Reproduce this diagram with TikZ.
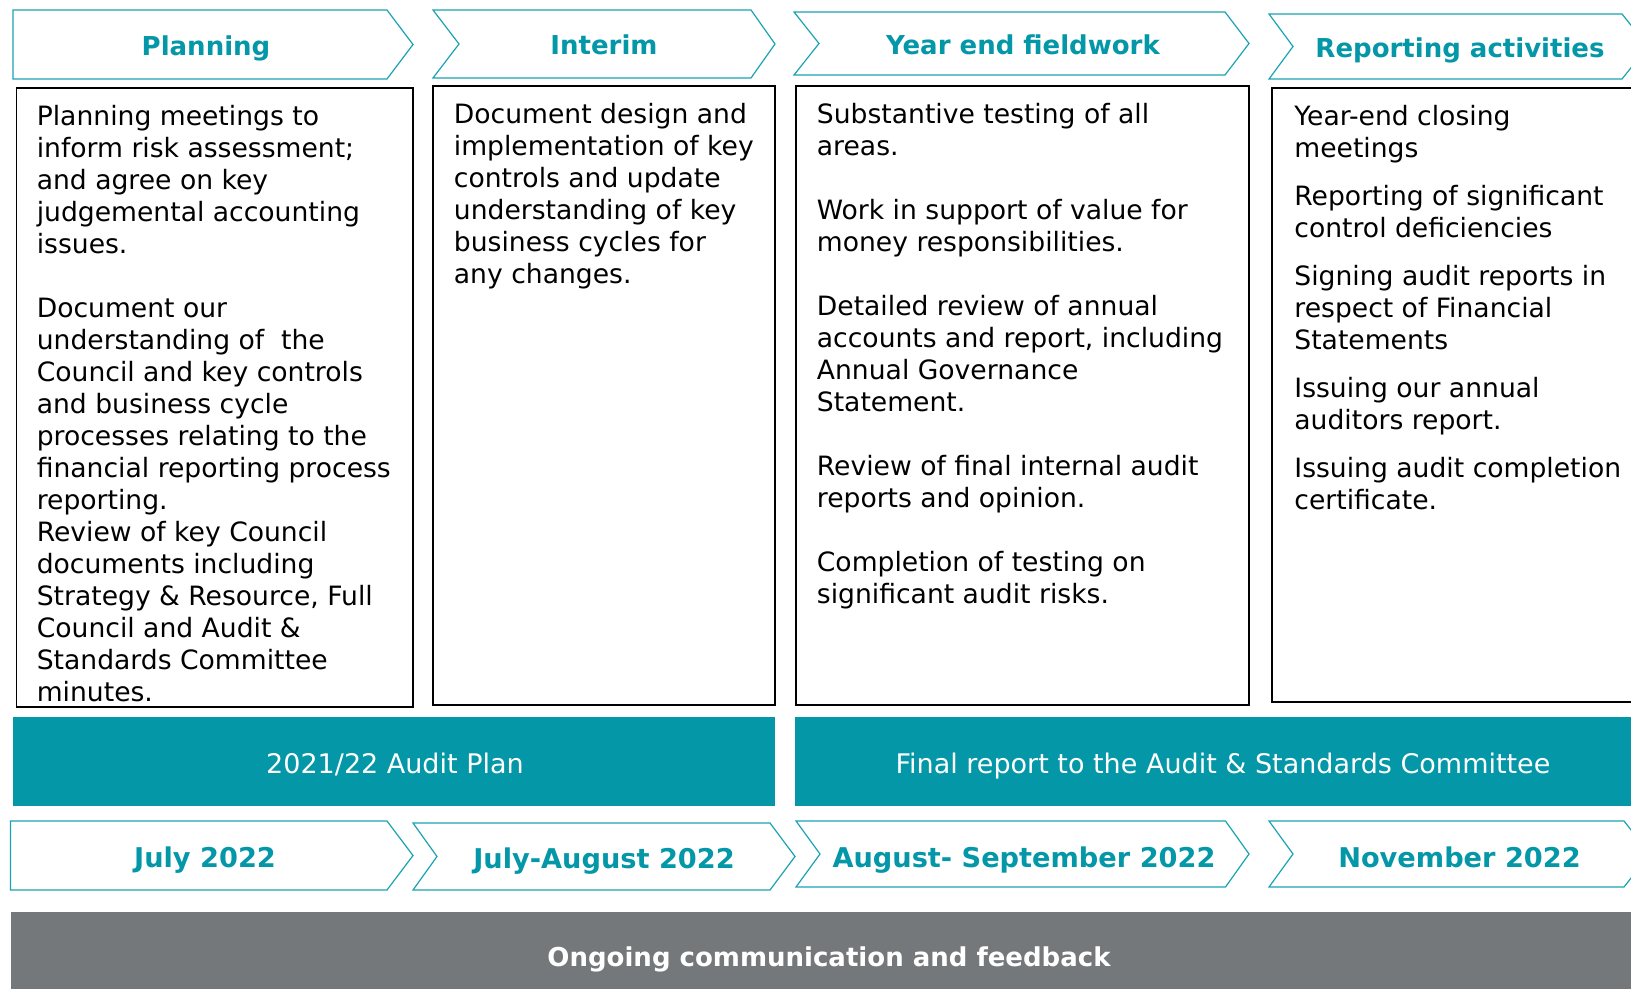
\documentclass[tikz,border=0pt]{standalone}
\usepackage{fontspec}
\setmainfont{DejaVu Sans}
\definecolor{audteal}{HTML}{0397A8}
\definecolor{lineteal}{HTML}{1AA3B3}
\definecolor{commgray}{HTML}{75787B}

% chevron outline: left, notch, flat end, tip, top, bottom
\newcommand{\chevpath}[6]{%
  \draw[chev] (#1,#5) -- (#3,#5) -- (#4,{(#5+#6)/2}) -- (#3,#6) -- (#1,#6) -- (#2,{(#5+#6)/2}) -- cycle;}

\begin{document}
\begin{tikzpicture}[x=0.5pt,y=-0.5pt,
  chev/.style={draw=lineteal, line width=0.6pt, fill=white},
  phase/.style={text=audteal, inner sep=0pt, font=\bfseries\fontsize{13}{15}\selectfont},
  datelbl/.style={text=audteal, inner sep=0pt, font=\bfseries\fontsize{13.6}{16}\selectfont},
  body/.style={anchor=north west, align=left, inner sep=0pt, font=\fontsize{13.3}{16}\selectfont},
  colbox/.style={draw=black, line width=0.8pt, fill=white},
  barlbl/.style={text=white, inner sep=0pt, font=\fontsize{13.5}{16}\selectfont}]
\useasboundingbox (0,0) rectangle (1631,989);
\clip (0,0) rectangle (1631,989);

% phase chevrons
\chevpath{13}{13}{387}{413}{10}{79}
\chevpath{433}{459}{751}{775}{10}{78}
\chevpath{794}{819}{1225}{1249}{12}{75}
\chevpath{1269}{1293}{1622}{1648}{14}{79}
\node[phase] (hPlan) at (206,48) {Planning};
\node[phase] (hInt) at (604,45) {Interim};
\node[phase] (hYear) at (1023,45) {Year end fieldwork};
\node[phase] (hRep) at (1460,50) {Reporting activities};

% activity columns
\draw[colbox] (16.6,88) rectangle (413,707);
\draw[colbox] (433,86) rectangle (775,705);
\draw[colbox] (796,86) rectangle (1249,705);
\draw[colbox] (1272,88) rectangle (1645,702);

\node[body] (tPlan) at (36.4,104.5) {Planning meetings to\\
inform risk assessment;\\
and agree on key\\
judgemental accounting\\
issues.\\[16pt]
Document our\\
understanding of~ the\\
Council and key controls\\
and business cycle\\
processes relating to the\\
financial reporting process\\
reporting.\\
Review of key Council\\
documents including\\
Strategy \& Resource, Full\\
Council and Audit \&\\
Standards Committee\\
minutes.};

\node[body] (tInt) at (453.5,102.4) {Document design and\\
implementation of key\\
controls and update\\
understanding of key\\
business cycles for\\
any changes.};

\node[body] (tYear) at (816.5,102.4) {Substantive testing of all\\
areas.\\[16pt]
Work in support of value for\\
money responsibilities.\\[16pt]
Detailed review of annual\\
accounts and report, including\\
Annual Governance\\
Statement.\\[16pt]
Review of final internal audit\\
reports and opinion.\\[16pt]
Completion of testing on\\
significant audit risks.};

\node[body] (tRep) at (1294,104.5) {Year-end closing\\
meetings\\[8pt]
Reporting of significant\\
control deficiencies\\[8pt]
Signing audit reports in\\
respect of Financial\\
Statements\\[8pt]
Issuing our annual\\
auditors report.\\[8pt]
Issuing audit completion\\
certificate.};

% reporting bars
\fill[audteal] (13,717) rectangle (775,806);
\fill[audteal] (795,717) rectangle (1645,806);
\node[barlbl] (plan) at (395,764.5) {2021/22 Audit Plan};
\node[barlbl] (final) at (1223,766.5) {Final report to the Audit \& Standards Committee};

% timing chevrons
\chevpath{10.5}{10.5}{387}{413}{821}{890}
\chevpath{413}{437}{770}{795}{823}{890}
\chevpath{796}{820}{1225.5}{1249}{821}{887}
\chevpath{1269}{1293}{1624}{1650}{821}{887}
\node[datelbl] (d1) at (205,860) {July 2022};
\node[datelbl] (d2) at (604,861) {July-August 2022};
\node[datelbl] (d3) at (1024,860) {August- September 2022};
\node[datelbl] (d4) at (1459.5,857) {November 2022};

% communication band
\fill[commgray] (10.5,912) rectangle (1645,1000);
\node[text=white, inner sep=0pt, font=\bfseries\fontsize{13}{15}\selectfont] (comm) at (829,959) {Ongoing communication and feedback};
\end{tikzpicture}
\end{document}
